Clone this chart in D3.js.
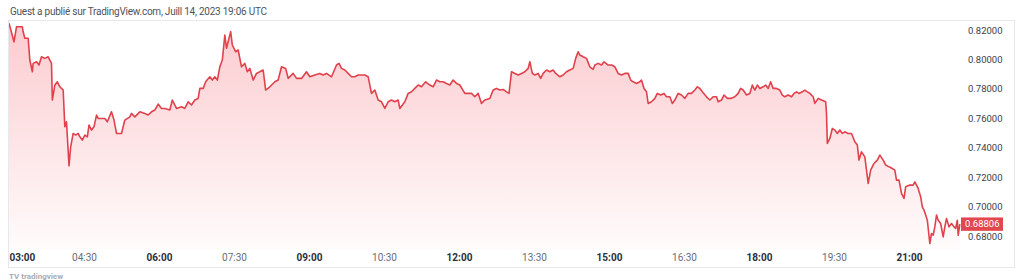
<!DOCTYPE html>
<html>
<head>
<meta charset="utf-8">
<script src="https://cdn.jsdelivr.net/npm/d3@7"></script>
<style>
body{margin:0;background:#fff;}
svg{display:block;font-family:Roboto,"Noto Sans",sans-serif;}
</style>
</head>
<body>
<svg id="chart" width="1024" height="280"></svg>
<script>
var title = "Guest a publié sur TradingView.com, Juill 14, 2023 19:06 UTC";
var timeLabels = ["03:00","04:30","06:00","07:30","09:00","10:30","12:00","13:30","15:00","16:30","18:00","19:30","21:00"];
var priceTicks = [0.68,0.70,0.72,0.74,0.76,0.78,0.80,0.82];
var lastPrice = 0.68806;

// minutes after 03:00
var minutes = [0,6,9,14,16,17,19,23,25,28,29,33,36,39,43,47,49,51,52,55,
  58,61,63,65,67,69,72,74,77,80,83,85,88,91,94,96,99,102,105,107,
  111,115,118,123,126,129,135,139,145,147,151,157,163,167,171,175,179,183,187,193,
  196,201,207,211,215,219,223,227,229,233,236,241,244,247,250,253,256,259,261,266,
  268,272,275,279,283,286,289,293,297,301,305,308,313,319,323,327,332,335,341,345,
  351,357,361,367,373,
  377,381,387,393,396,399,403,407,411,415,419,423,427,431,435,439,443,447,451,455,
  459,463,467,469,475,479,483,487,491,495,500,505,509,513,517,521,525,529,533,537,
  541,547,551,555,559,563,567,571,
  577,581,585,589,593,597,600,603,607,611,615,619,623,625,628,631,635,638,641,645,
  649,653,656,661,665,669,673,677,680,683,685,689,693,697,701,703,707,711,714,719,
  723,727,731,735,739,743,746,749,753,757,759,762,765,767,
  771,775,778,782,786,789,793,796,799,803,807,811,815,819,823,826,829,832,837,841,
  845,849,851,855,858,862,866,871,875,878,881,885,889,892,895,898,901,905,908,911,
  914,917,921,925,928,931,935,939,942,945,948,952,955,958,961,
  965,967,971,975,980,981,982,985,988,991,994,997,1000,1003,1007,1011,1015,1018,1020,1023,
  1027,1029,1031,1034,1038,1042,1045,1049,1052,1056,1060,1063,1065,1068,1071,1074,1076,1081,1085,1087,
  1091,1094,1096,1098,1100,1102,1105,1107,1109,1111,1113,1115,1118,1121,1123,1125,1128,1131,1134,1136,
  1138,1139,1141];

var prices = [0.8246,0.8120,0.8222,0.8222,0.8222,0.8188,0.8144,0.8144,0.7996,0.7916,
  0.7973,0.7984,0.7962,0.8018,0.8007,0.8018,0.7996,0.7973,0.7724,0.7826,
  0.7848,0.7814,0.7803,0.7792,0.7542,0.7576,0.7277,0.7406,0.7497,0.7486,
  0.7497,0.7474,0.7452,0.7486,0.7474,0.7554,0.7520,0.7542,0.7622,0.7599,
  0.7599,0.7599,0.7576,0.7644,0.7588,0.7497,0.7497,0.7588,0.7610,0.7633,
  0.7610,0.7644,0.7633,0.7622,0.7644,0.7656,0.7697,0.7667,0.7667,0.7656,
  0.7724,0.7667,0.7678,0.7667,0.7712,0.7690,0.7724,0.7735,0.7803,0.7803,
  0.7848,0.7882,0.7860,0.7882,0.7860,0.7950,0.7996,0.8166,0.8076,0.8189,
  0.8098,0.8052,0.8064,0.7950,0.7973,0.7916,0.7939,0.7860,0.7905,0.7916,
  0.7928,0.7792,0.7814,0.7848,0.7860,0.7950,0.7939,0.7871,0.7905,0.7871,
  0.7871,0.7916,0.7882,0.7894,0.7905,
  0.7894,0.7905,0.7882,0.7962,0.7973,0.7939,0.7928,0.7905,0.7882,0.7882,
  0.7894,0.7894,0.7894,0.7882,0.7769,0.7792,0.7724,0.7712,0.7667,0.7712,
  0.7724,0.7712,0.7724,0.7667,0.7712,0.7769,0.7780,0.7803,0.7826,0.7814,
  0.7848,0.7826,0.7814,0.7860,0.7848,0.7848,0.7837,0.7826,0.7860,0.7837,
  0.7826,0.7769,0.7769,0.7769,0.7746,0.7769,0.7701,0.7724,
  0.7735,0.7792,0.7803,0.7792,0.7796,0.7780,0.7769,0.7916,0.7905,0.7894,
  0.7905,0.7916,0.7939,0.7984,0.7905,0.7894,0.7905,0.7871,0.7905,0.7928,
  0.7916,0.7928,0.7905,0.7882,0.7894,0.7916,0.7928,0.7939,0.8007,0.8052,
  0.8030,0.8018,0.8007,0.7950,0.7933,0.7962,0.7973,0.7962,0.7984,0.7962,
  0.7962,0.7950,0.7905,0.7894,0.7905,0.7905,0.7860,0.7848,0.7837,0.7848,
  0.7860,0.7803,0.7780,0.7701,
  0.7712,0.7735,0.7769,0.7758,0.7769,0.7746,0.7746,0.7701,0.7724,0.7769,
  0.7758,0.7735,0.7769,0.7769,0.7792,0.7814,0.7803,0.7780,0.7746,0.7724,
  0.7746,0.7746,0.7712,0.7724,0.7758,0.7735,0.7735,0.7746,0.7769,0.7803,
  0.7792,0.7758,0.7769,0.7826,0.7792,0.7826,0.7803,0.7814,0.7826,0.7803,
  0.7848,0.7803,0.7803,0.7792,0.7758,0.7746,0.7758,0.7746,0.7769,0.7780,
  0.7769,0.7780,0.7792,0.7780,0.7769,
  0.7746,0.7701,0.7735,0.7724,0.7712,0.7633,0.7429,0.7463,0.7531,0.7520,
  0.7497,0.7520,0.7497,0.7508,0.7497,0.7497,0.7440,0.7418,0.7316,0.7372,
  0.7338,0.7248,0.7157,0.7248,0.7293,0.7316,0.7350,0.7316,0.7282,0.7270,
  0.7259,0.7248,0.7180,0.7180,0.7089,0.7055,0.7134,0.7146,0.7146,0.7168,
  0.7123,0.7066,0.6998,0.6976,0.6942,0.6907,0.6749,0.6817,0.6805,0.6862,
  0.6942,0.6907,0.6885,0.6794,0.6862,0.6919,0.6862,0.6885,0.6862,0.6851,
  0.6907,0.6805,0.68806];

var parseTime = d3.timeParse("%H:%M");
var start = parseTime(timeLabels[0]);
var data = minutes.map((m,i)=>({t: d3.timeMinute.offset(start, m), v: prices[i]}));
var tickDates = timeLabels.map(parseTime);

var svg = d3.select("#chart");
var plotLeft = 8, plotRight = 960, plotTop = 21, plotBottom = 249;

var x = d3.scaleTime()
    .domain([start, parseTime(timeLabels[timeLabels.length-1])])
    .range([9, 909]);
var y = d3.scaleLinear()
    .domain([0.68, 0.82])
    .range([236, 30]);

// header
svg.append("text")
   .attr("x", 10)
   .attr("y", 14.5)
   .attr("font-size", 10)
   .attr("textLength", 257)
   .attr("fill", "#4f525b")
   .text(title);

// frame
svg.append("rect")
   .attr("x", 8.5).attr("y", 20.5)
   .attr("width", 1006).attr("height", 247)
   .attr("fill", "none")
   .attr("stroke", "#e6e8ee");

var defs = svg.append("defs");
defs.append("clipPath").attr("id", "plotclip")
    .append("rect")
    .attr("x", plotLeft + 1).attr("y", plotTop)
    .attr("width", plotRight - plotLeft).attr("height", plotBottom - plotTop);

var grad = defs.append("linearGradient")
    .attr("id", "fillgrad")
    .attr("gradientUnits", "userSpaceOnUse")
    .attr("x1", 0).attr("x2", 0)
    .attr("y1", plotTop).attr("y2", plotBottom);
grad.append("stop").attr("offset", 0).attr("stop-color", "#f23645").attr("stop-opacity", 0.26);
grad.append("stop").attr("offset", 1).attr("stop-color", "#f23645").attr("stop-opacity", 0.02);

var plot = svg.append("g").attr("clip-path", "url(#plotclip)");

var area = d3.area()
    .x(d => x(d.t))
    .y0(plotBottom)
    .y1(d => y(d.v));

var line = d3.line()
    .x(d => x(d.t))
    .y(d => y(d.v));

plot.append("path")
    .datum(data)
    .attr("d", area)
    .attr("fill", "url(#fillgrad)");

plot.append("path")
    .datum(data)
    .attr("d", line)
    .attr("fill", "none")
    .attr("stroke", "#e1414c")
    .attr("stroke-width", 1.6)
    .attr("stroke-linejoin", "round");

// time axis
var gx = svg.append("g")
    .attr("transform", "translate(0,254)")
    .call(d3.axisBottom(x)
        .tickValues(tickDates)
        .tickSize(0)
        .tickPadding(0)
        .tickFormat(d3.timeFormat("%H:%M")));
gx.select(".domain").remove();
gx.selectAll("text")
  .attr("font-size", 10)
  .attr("font-family", "Roboto, sans-serif")
  .attr("fill", d => d.getHours() % 3 == 0 && d.getMinutes() == 0 ? "#2a2e39" : "#6a6d78")
  .attr("font-weight", d => d.getHours() % 3 == 0 && d.getMinutes() == 0 ? "bold" : "normal");
gx.select(".tick text").attr("text-anchor", "start");

// price axis
var gy = svg.append("g")
    .attr("transform", "translate(968,0)")
    .call(d3.axisRight(y)
        .tickValues(priceTicks)
        .tickSize(0)
        .tickPadding(0)
        .tickFormat(d3.format(".5f")));
gy.select(".domain").remove();
gy.selectAll("text")
  .attr("font-size", 9.5)
  .attr("font-family", "Roboto, sans-serif")
  .attr("fill", "#3b3e47");

// last price label
var lp = svg.append("g").attr("transform", `translate(961,${y(lastPrice)})`);
lp.append("rect")
  .attr("x", 0).attr("y", -6.7)
  .attr("width", 42).attr("height", 13.4)
  .attr("fill", "#e2464f");
lp.append("text")
  .attr("x", 4).attr("dy", "0.34em")
  .attr("font-size", 9.5)
  .attr("fill", "#fff")
  .text(d3.format(".5f")(lastPrice));

// logo at the bottom edge
svg.append("text")
   .attr("x", 9).attr("y", 278.5)
   .attr("font-size", 8)
   .attr("font-weight", "bold")
   .attr("fill", "#a9abb2")
   .text("TV  tradingview");
</script>
</body>
</html>
